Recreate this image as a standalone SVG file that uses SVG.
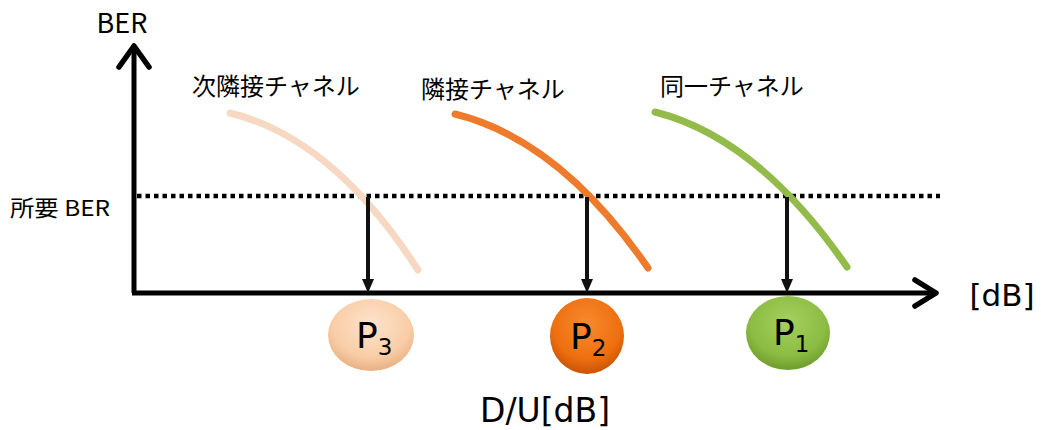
<svg xmlns="http://www.w3.org/2000/svg" width="1041" height="430" viewBox="0 0 1041 430">
<style>
.t{font-family:"Noto Sans CJK JP","Noto Sans",sans-serif;fill:#000}
.v{font-family:"DejaVu Sans",sans-serif;fill:#000}
.axis{stroke:#000;stroke-width:5;fill:none}
.head{stroke:#000;stroke-width:5.5;fill:none;stroke-linecap:round;stroke-linejoin:round}
.curve{fill:none;stroke-width:7;stroke-linecap:round}
.drop{stroke:#111;stroke-width:4;fill:none}
</style>
<defs>
<radialGradient id="gP" cx="0.5" cy="0.35" r="0.65">
<stop offset="0" stop-color="#fde3cc"/><stop offset="0.7" stop-color="#f9cda6"/><stop offset="1" stop-color="#e8b084"/>
</radialGradient>
<radialGradient id="gO" cx="0.5" cy="0.35" r="0.65">
<stop offset="0" stop-color="#f98a30"/><stop offset="0.7" stop-color="#ee6f0e"/><stop offset="1" stop-color="#c85408"/>
</radialGradient>
<radialGradient id="gG" cx="0.5" cy="0.35" r="0.65">
<stop offset="0" stop-color="#a4d060"/><stop offset="0.7" stop-color="#8cbc42"/><stop offset="1" stop-color="#6e9c2c"/>
</radialGradient>
</defs>
<rect width="1041" height="430" fill="#fff"/>
<g id="axes">
<path class="axis" d="M134,293 L134,46"/>
<path class="head" d="M119,67 L134,46 L149,67"/>
<path class="axis" d="M132,293 L936,293"/>
<path class="head" d="M915,280 L936,293 L915,306"/>
<text class="t" x="122" y="33" font-size="27" text-anchor="middle">BER</text>
<text class="v" x="1002" y="306" font-size="31" text-anchor="middle">[dB]</text>
<text class="t" x="10" y="216" font-size="22" textLength="100" lengthAdjust="spacingAndGlyphs">所要 BER</text>
<text class="v" x="545" y="422" font-size="33" text-anchor="middle">D/U[dB]</text>
</g>
<g id="required-ber">
<line x1="137" y1="196" x2="940" y2="196" stroke="#000" stroke-width="4.5" stroke-dasharray="4.5 4"/>
</g>
<g id="curves">
<path class="curve" stroke="#f6d8c3" d="M230,113 Q333,138 418,270"/>
<path class="curve" stroke="#ee7a2c" d="M455,114 Q560,140 648,268"/>
<path class="curve" stroke="#93bb4a" d="M655,112 Q758,138 847,267"/>
<text class="t" x="192" y="95" font-size="24">次隣接チャネル</text>
<text class="t" x="421" y="98" font-size="24">隣接チャネル</text>
<text class="t" x="660" y="95" font-size="24">同一チャネル</text>
</g>
<g id="connectors">
<line class="drop" x1="368" y1="197" x2="368" y2="280"/>
<path d="M362,279 L374,279 L368,293 Z" fill="#111"/>
<line class="drop" x1="587" y1="197" x2="587" y2="280"/>
<path d="M581,279 L593,279 L587,293 Z" fill="#111"/>
<line class="drop" x1="787" y1="197" x2="787" y2="280"/>
<path d="M781,279 L793,279 L787,293 Z" fill="#111"/>
</g>
<g id="P3">
<ellipse cx="371" cy="335" rx="43" ry="36" fill="url(#gP)"/>
<text class="v" x="356" y="348" font-size="36">P<tspan font-size="23" dy="7">3</tspan></text>
</g>
<g id="P2">
<ellipse cx="587" cy="336" rx="37" ry="38" fill="url(#gO)"/>
<text class="v" x="570" y="349" font-size="36">P<tspan font-size="23" dy="7">2</tspan></text>
</g>
<g id="P1">
<ellipse cx="788" cy="333" rx="42" ry="37" fill="url(#gG)"/>
<text class="v" x="773" y="345" font-size="36">P<tspan font-size="23" dy="7">1</tspan></text>
</g>
</svg>
